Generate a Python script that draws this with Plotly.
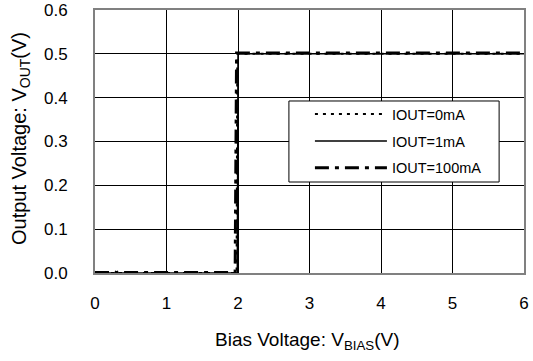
import plotly.graph_objects as go

# Data
x_0mA = [0, 0.25, 0.5, 0.75, 1.0, 1.25, 1.5, 1.75, 1.98, 1.99, 2.0, 2.5, 3, 3.5, 4, 4.5, 5, 5.5, 6]
y_0mA = [0, 0, 0, 0, 0, 0, 0, 0, 0, 0.5, 0.5, 0.5, 0.5, 0.5, 0.5, 0.5, 0.5, 0.5, 0.5]

x_1mA = [0, 0.5, 1.0, 1.5, 1.99, 2.0, 2.02, 3, 4, 5, 6]
y_1mA = [0, 0, 0, 0, 0, 0.5, 0.5, 0.5, 0.5, 0.5, 0.5]

x_100mA = [0, 0.1, 0.2, 0.25, 0.3, 0.35, 0.4, 0.45, 0.5, 0.6, 0.8, 1.0, 1.2, 1.4, 1.6, 1.8, 1.9, 1.96, 1.97, 1.98, 2.5, 3, 3.5, 4, 4.5, 5, 5.5, 6]
y_100mA = [0.001, 0.001, 0.001, 0.004, 0.001, 0.004, 0.001, 0.001, 0.001, 0.001, 0.001, 0.001, 0.001, 0.001, 0.001, 0.001, 0.001, 0.001, 0.25, 0.502, 0.502, 0.502, 0.502, 0.502, 0.502, 0.502, 0.502, 0.502]

x_ticks = [0, 1, 2, 3, 4, 5, 6]
y_ticks = [0.0, 0.1, 0.2, 0.3, 0.4, 0.5, 0.6]
y_tick_labels = ["0.0", "0.1", "0.2", "0.3", "0.4", "0.5", "0.6"]

x_title = "Bias Voltage: V<sub>BIAS</sub>(V)"
y_title = "Output Voltage: V<sub>OUT</sub>(V)"

FONT = "Liberation Sans, Arial, sans-serif"

fig = go.Figure()
fig.add_trace(go.Scatter(x=x_0mA, y=y_0mA, mode="lines", name="IOUT=0mA", legendgroup="a",
                         line=dict(color="black", width=2, dash="3px,5px")))
fig.add_trace(go.Scatter(x=x_1mA, y=y_1mA, mode="lines", name="IOUT=1mA", legendgroup="b",
                         line=dict(color="black", width=1.5)))
fig.add_trace(go.Scatter(x=x_100mA, y=y_100mA, mode="lines", name="IOUT=100mA", legendgroup="c",
                         line=dict(color="black", width=3, dash="14px,6px,4px,6px")))

# legend frame (drawn as a box in paper coordinates)
fig.add_shape(type="rect", xref="paper", yref="paper",
              x0=0.452, x1=0.942, y0=0.346, y1=0.654,
              line=dict(color="black", width=1), fillcolor="white", layer="above")

# axis titles
fig.add_annotation(text=x_title, xref="paper", yref="paper", x=0.495, y=-0.26,
                   xanchor="center", yanchor="middle", showarrow=False,
                   font=dict(size=19, family=FONT, color="black"))
fig.add_annotation(text=y_title, xref="paper", yref="paper", x=-0.175, y=0.513,
                   xanchor="center", yanchor="middle", showarrow=False, textangle=-90,
                   font=dict(size=20, family=FONT, color="black"))

fig.update_layout(
    width=533, height=361,
    margin=dict(l=95, r=9, t=10, b=88),
    paper_bgcolor="white", plot_bgcolor="white",
    font=dict(family=FONT, size=17, color="black"),
    showlegend=True,
    legend=dict(x=0.501, y=0.665, xanchor="left", yanchor="top",
                bgcolor="rgba(0,0,0,0)", borderwidth=0,
                font=dict(size=14.5, family=FONT), itemwidth=72,
                tracegroupgap=5),
)
fig.update_xaxes(range=[0, 6], tickvals=x_ticks, ticktext=[str(v) for v in x_ticks],
                 showgrid=True, gridcolor="black", gridwidth=1, automargin=False,
                 showline=True, linecolor="#808080", linewidth=2, mirror=True,
                 zeroline=False, ticks="", ticklabelstandoff=14)
fig.update_yaxes(range=[0, 0.6], tickvals=y_ticks, ticktext=y_tick_labels,
                 showgrid=True, gridcolor="black", gridwidth=1, automargin=False,
                 showline=True, linecolor="#808080", linewidth=2, mirror=True,
                 zeroline=False, ticks="", ticklabelstandoff=22)

fig.write_html("out.html")
